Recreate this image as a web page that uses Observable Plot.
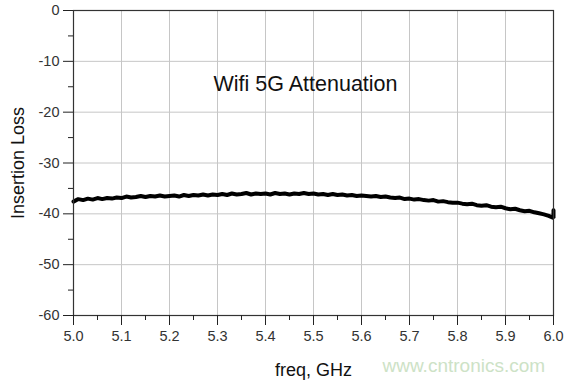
<!DOCTYPE html>
<html>
<head>
<meta charset="utf-8">
<script src="https://cdn.jsdelivr.net/npm/d3@7"></script>
<script src="https://cdn.jsdelivr.net/npm/@observablehq/plot@0.6"></script>
<style>
  html, body { margin: 0; padding: 0; background: #fff; }
  #chart { width: 567px; height: 381px; }
</style>
</head>
<body>
<div id="chart"></div>
<script>
const freq = [
  5.00,5.01,5.02,5.03,5.04,5.05,5.06,5.07,5.08,5.09,
  5.10,5.11,5.12,5.13,5.14,5.15,5.16,5.17,5.18,5.19,
  5.20,5.21,5.22,5.23,5.24,5.25,5.26,5.27,5.28,5.29,
  5.30,5.31,5.32,5.33,5.34,5.35,5.36,5.37,5.38,5.39,
  5.40,5.41,5.42,5.43,5.44,5.45,5.46,5.47,5.48,5.49,
  5.50,5.51,5.52,5.53,5.54,5.55,5.56,5.57,5.58,5.59,
  5.60,5.61,5.62,5.63,5.64,5.65,5.66,5.67,5.68,5.69,
  5.70,5.71,5.72,5.73,5.74,5.75,5.76,5.77,5.78,5.79,
  5.80,5.81,5.82,5.83,5.84,5.85,5.86,5.87,5.88,5.89,
  5.90,5.91,5.92,5.93,5.94,5.95,5.96,5.97,5.98,5.99,
  6.00,6.00
];
const loss = [
  -37.6,-37.1,-37.3,-37.0,-37.2,-36.9,-37.1,-36.9,-37.0,-36.8,
  -36.9,-36.6,-36.8,-36.7,-36.5,-36.7,-36.5,-36.6,-36.4,-36.6,
  -36.5,-36.4,-36.6,-36.3,-36.5,-36.3,-36.4,-36.2,-36.4,-36.2,
  -36.3,-36.1,-36.3,-36.0,-36.2,-36.1,-35.9,-36.2,-36.0,-36.1,
  -36.0,-36.2,-35.9,-36.1,-36.0,-36.2,-36.0,-36.1,-35.9,-36.1,
  -36.0,-36.2,-36.1,-36.3,-36.1,-36.3,-36.2,-36.4,-36.3,-36.5,
  -36.4,-36.5,-36.6,-36.5,-36.7,-36.6,-36.8,-36.9,-36.8,-37.1,
  -37.0,-37.2,-37.1,-37.3,-37.4,-37.3,-37.6,-37.5,-37.7,-37.8,
  -37.8,-38.0,-38.1,-38.0,-38.3,-38.4,-38.3,-38.6,-38.7,-38.6,
  -38.9,-39.1,-39.0,-39.3,-39.5,-39.4,-39.7,-39.9,-40.1,-40.4,
  -40.8,-39.3
];
const xTicks = [5.0,5.1,5.2,5.3,5.4,5.5,5.6,5.7,5.8,5.9,6.0];
const xMinor = [5.05,5.15,5.25,5.35,5.45,5.55,5.65,5.75,5.85,5.95];
const yTicks = [0,-10,-20,-30,-40,-50,-60];
const yMinor = [-5,-15,-25,-35,-45,-55];
const title = "Wifi 5G Attenuation";
const xLabel = "freq, GHz";
const yLabel = "Insertion Loss";
const watermark = "www.cntronics.com";

const data = freq.map((f, i) => ({freq: f, loss: loss[i]}));
const font = "'Liberation Sans', Arial, Helvetica, sans-serif";

const chart = Plot.plot({
  width: 567,
  height: 381,
  marginLeft: 73,
  marginRight: 14,
  marginTop: 10,
  marginBottom: 66,
  x: {domain: [5, 6]},
  y: {domain: [-60, 0]},
  style: {fontFamily: font, fontSize: "14.5px", color: "#333", background: "#fff", overflow: "visible"},
  marks: [
    Plot.gridX(xTicks, {stroke: "#c6c6c6", strokeOpacity: 1, strokeWidth: 1}),
    Plot.gridY(yTicks, {stroke: "#c6c6c6", strokeOpacity: 1, strokeWidth: 1}),
    Plot.line(data, {x: "freq", y: "loss", stroke: "#000", strokeWidth: 4, strokeLinejoin: "miter"}),
    Plot.frame({stroke: "#333", strokeWidth: 1.2}),
    Plot.axisX(xTicks, {tickSize: 10, tickPadding: 5, tickFormat: d => d.toFixed(1), label: null, stroke: "#222", fill: "#333"}),
    Plot.axisX(xMinor, {tickSize: 5, tickFormat: () => "", label: null, stroke: "#222"}),
    Plot.axisY(yTicks, {tickSize: 10, tickPadding: 4, tickFormat: d => String(d), label: null, stroke: "#222", fill: "#333"}),
    Plot.axisY(yMinor, {tickSize: 5, tickFormat: () => "", label: null, stroke: "#222"}),
    Plot.text([title], {frameAnchor: "top-left", dx: 232, dy: 74, textAnchor: "middle", lineAnchor: "middle", fontSize: 21.5, fill: "#111"}),
    Plot.text([yLabel], {frameAnchor: "left", dx: -55, rotate: -90, textAnchor: "middle", lineAnchor: "middle", fontSize: 18, fill: "#111"}),
    Plot.text([xLabel], {frameAnchor: "bottom", dy: 55, textAnchor: "middle", lineAnchor: "middle", fontSize: 18, fill: "#111"}),
    Plot.text([watermark], {frameAnchor: "bottom-left", dx: 309, dy: 50, textAnchor: "start", lineAnchor: "middle", fontSize: 19, fill: "#cde2c6"})
  ]
});
document.getElementById("chart").appendChild(chart);
</script>
</body>
</html>
